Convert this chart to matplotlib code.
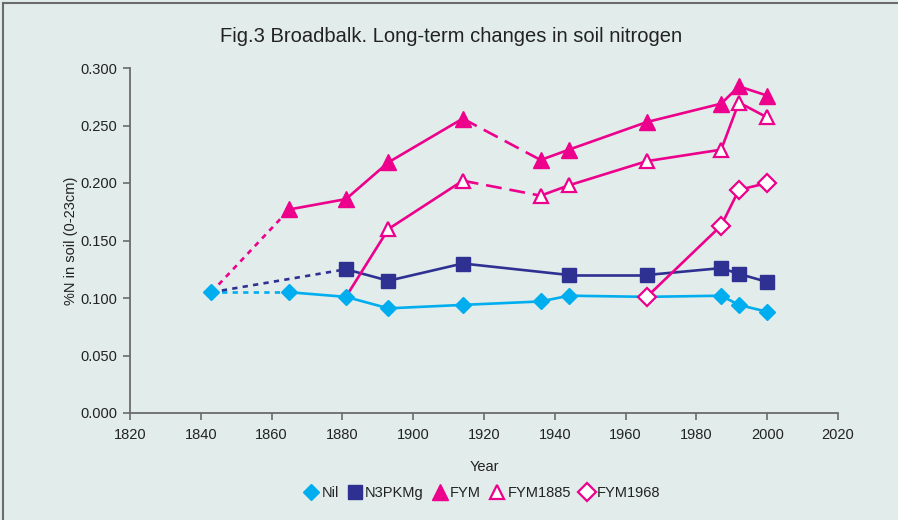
import matplotlib
matplotlib.use("Agg")
import matplotlib.pyplot as plt
from matplotlib.lines import Line2D

plt.rcParams['font.family'] = ['Liberation Sans', 'DejaVu Sans']

BG = '#e2ecea'
CYAN = '#00aeef'
NAVY = '#2e3192'
MAG = '#ec008c'

nil_years = [1843, 1865, 1881, 1893, 1914, 1936, 1944, 1966, 1987, 1992, 2000]
nil_vals = [0.105, 0.105, 0.101, 0.091, 0.094, 0.097, 0.102, 0.101, 0.102, 0.094, 0.088]
nil_styles = ['short', '-', '-', '-', '-', '-', '-', '-', '-', '-']

npk_years = [1843, 1881, 1893, 1914, 1944, 1966, 1987, 1992, 2000]
npk_vals = [0.105, 0.125, 0.115, 0.130, 0.120, 0.120, 0.126, 0.121, 0.114]
npk_styles = ['short', '-', '-', '-', '-', '-', '-', '-']

fym_years = [1843, 1865, 1881, 1893, 1914, 1936, 1944, 1966, 1987, 1992, 2000]
fym_vals = [0.105, 0.177, 0.186, 0.218, 0.256, 0.220, 0.229, 0.253, 0.269, 0.284, 0.276]
fym_styles = ['short', '-', '-', '-', 'long', '-', '-', '-', '-', '-']

fym1885_years = [1881, 1893, 1914, 1936, 1944, 1966, 1987, 1992, 2000]
fym1885_vals = [0.101, 0.160, 0.202, 0.189, 0.198, 0.219, 0.229, 0.270, 0.257]
fym1885_styles = ['-', '-', 'long', '-', '-', '-', '-', '-']

fym1968_years = [1966, 1987, 1992, 2000]
fym1968_vals = [0.101, 0.163, 0.194, 0.200]
fym1968_styles = ['-', '-', '-']

x_ticks = [1820, 1840, 1860, 1880, 1900, 1920, 1940, 1960, 1980, 2000, 2020]
y_ticks = [0.0, 0.05, 0.10, 0.15, 0.20, 0.25, 0.30]

DASHES = {'-': '-', 'short': (0, (2, 2)), 'long': (0, (6, 3))}

fig = plt.figure(figsize=(8.98, 5.20), dpi=100, facecolor=BG)
ax = fig.add_axes([130/898, 1-413/520, 708/898, 345/520])
ax.set_facecolor(BG)

def draw(years, vals, styles, color, lw):
    for i, st in enumerate(styles):
        ax.plot(years[i:i+2], vals[i:i+2], color=color, lw=lw,
                linestyle=DASHES[st], solid_capstyle='butt', dash_capstyle='butt', zorder=2)

LW = 1.9
draw(nil_years, nil_vals, nil_styles, CYAN, LW)
draw(npk_years, npk_vals, npk_styles, NAVY, LW)
draw(fym_years, fym_vals, fym_styles, MAG, LW)
draw(fym1885_years, fym1885_vals, fym1885_styles, MAG, LW)
draw(fym1968_years, fym1968_vals, fym1968_styles, MAG, LW)

ax.plot(nil_years, nil_vals, 'D', ms=8.5, color=CYAN, ls='none', zorder=4, label='Nil')
ax.plot(npk_years[1:], npk_vals[1:], 's', ms=9.5, color=NAVY, ls='none', zorder=4, label='N3PKMg')
ax.plot(fym_years[1:], fym_vals[1:], '^', ms=11, color=MAG, ls='none', zorder=4, label='FYM')
ax.plot(fym1885_years[1:], fym1885_vals[1:], '^', ms=10, mfc='white', mec=MAG, mew=1.6,
        ls='none', zorder=4, label='FYM1885')
ax.plot(fym1968_years, fym1968_vals, 'D', ms=9, mfc='white', mec=MAG, mew=1.6,
        ls='none', zorder=4, label='FYM1968')

ax.set_xlim(1820, 2020)
ax.set_ylim(0, 0.3)
ax.set_xticks(x_ticks)
ax.set_yticks(y_ticks)
ax.set_yticklabels([f'{v:.3f}' for v in y_ticks])
for s in ['top', 'right']:
    ax.spines[s].set_visible(False)
for s in ['left', 'bottom']:
    ax.spines[s].set_color('#6b6b6b')
    ax.spines[s].set_linewidth(1.3)
ax.tick_params(axis='both', colors='#6b6b6b', labelcolor='#222222', labelsize=10.5,
               length=5, width=1.2)
ax.tick_params(axis='x', pad=6)
ax.tick_params(axis='y', pad=4)

ax.set_xlabel('Year', fontsize=10.5, color='#222222', labelpad=13)
ax.set_ylabel('%N in soil (0-23cm)', fontsize=10.5, color='#222222', labelpad=2)

fig.text(451/898, 1-37/520, 'Fig.3 Broadbalk. Long-term changes in soil nitrogen',
         ha='center', va='center', fontsize=14.5, color='#222222')

leg = fig.legend(loc='center', bbox_to_anchor=(483/898, 1-493/520), ncol=5, frameon=False,
                 fontsize=10.5, handlelength=0.8, handletextpad=0.3, columnspacing=0.7,
                 borderpad=0, labelcolor='#222222')

fig.add_artist(Line2D([3/898, 1], [1-3/520, 1-3/520], color='#6b6b6b', lw=1.5))
fig.add_artist(Line2D([3/898, 3/898], [0, 1-3/520], color='#6b6b6b', lw=1.5))

fig.savefig('out.png', dpi=100, facecolor=BG)
